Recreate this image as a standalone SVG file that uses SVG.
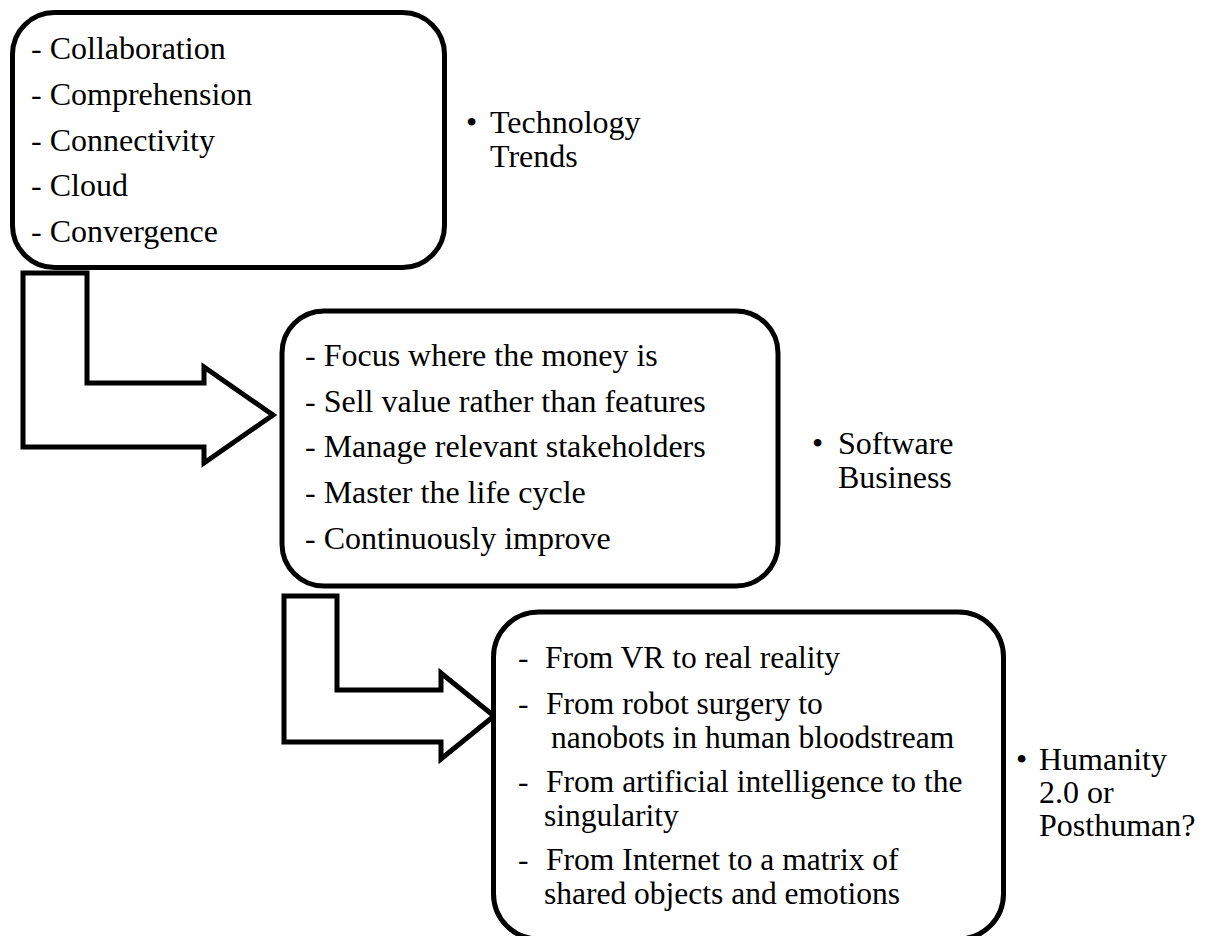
<svg xmlns="http://www.w3.org/2000/svg" width="1211" height="936" viewBox="0 0 1211 936">
<style>
.box{fill:#fff;stroke:#000;stroke-width:5}
.arr{fill:#fff;stroke:#000;stroke-width:5;stroke-linejoin:miter}
.t{font-family:'Liberation Serif','Times New Roman','DejaVu Serif',serif;font-size:32px;fill:#000}
.s3{font-size:31.5px}
</style>
<rect width="1211" height="936" fill="#fff"/>
<g id="connectors">
<polygon class="arr" points="23,273 87,273 87,383 204,383 204,367 273,415 204,463 204,447 23,447"/>
<polygon class="arr" points="284,596 337,596 337,690 441,690 441,673 494,716 441,759 441,742 284,742"/>
</g>
<g id="node-tech" class="t" font-family="Liberation Serif, serif">
<rect class="box" x="12.5" y="12.5" width="432" height="255" rx="42" ry="42"/>
<text x="31" y="59">- Collaboration</text>
<text x="31" y="105">- Comprehension</text>
<text x="31" y="151">- Connectivity</text>
<text x="31" y="196">- Cloud</text>
<text x="31" y="242">- Convergence</text>
</g>
<g id="label-tech" class="t" font-family="Liberation Serif, serif">
<text x="466" y="133">•</text>
<text x="490" y="133">Technology</text>
<text x="490" y="167">Trends</text>
</g>
<g id="node-business" class="t" font-family="Liberation Serif, serif">
<rect class="box" x="282" y="311" width="496" height="275" rx="42" ry="42"/>
<text x="305" y="366">- Focus where the money is</text>
<text x="305" y="412">- Sell value rather than features</text>
<text x="305" y="457">- Manage relevant stakeholders</text>
<text x="305" y="503">- Master the life cycle</text>
<text x="305" y="549">- Continuously improve</text>
</g>
<g id="label-business" class="t" font-family="Liberation Serif, serif">
<text x="812" y="454">•</text>
<text x="838" y="454">Software</text>
<text x="838" y="488">Business</text>
</g>
<g id="node-humanity" class="t" font-family="Liberation Serif, serif">
<rect class="box" x="493.5" y="612" width="510" height="327" rx="45" ry="45"/>
<text class="s3" x="518" y="668">-</text>
<text class="s3" x="545" y="668">From VR to real reality</text>
<text class="s3" x="518" y="714">-</text>
<text class="s3" x="546" y="714">From robot surgery to</text>
<text class="s3" x="551" y="748">nanobots in human bloodstream</text>
<text class="s3" x="518" y="792">-</text>
<text class="s3" x="546" y="792">From artificial intelligence to the</text>
<text class="s3" x="544" y="826">singularity</text>
<text class="s3" x="518" y="870">-</text>
<text class="s3" x="546" y="870">From Internet to a matrix of</text>
<text class="s3" x="544" y="904">shared objects and emotions</text>
</g>
<g id="label-humanity" class="t" font-family="Liberation Serif, serif">
<text x="1016" y="770">•</text>
<text x="1039" y="770">Humanity</text>
<text x="1039" y="803">2.0 or</text>
<text x="1039" y="836">Posthuman?</text>
</g>
</svg>
